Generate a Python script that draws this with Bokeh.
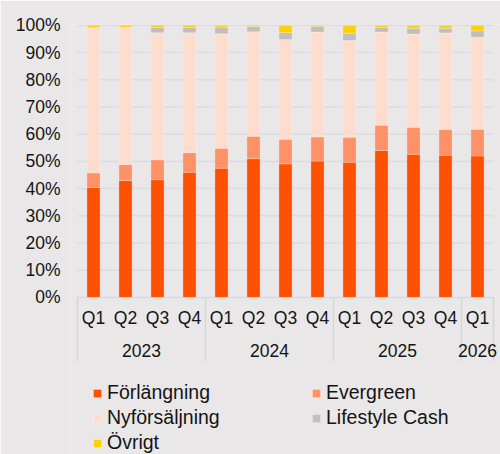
from bokeh.plotting import figure
from bokeh.models import (FactorRange, Range1d, FixedTicker, Legend, LegendItem,
                          ColumnDataSource)
from bokeh.core.properties import value
from bokeh.embed import file_html
from bokeh.resources import INLINE

# ---- data -------------------------------------------------------------
years = ["2023", "2023", "2023", "2023", "2024", "2024", "2024", "2024",
         "2025", "2025", "2025", "2025", "2026"]
quarters = ["Q1", "Q2", "Q3", "Q4", "Q1", "Q2", "Q3", "Q4",
            "Q1", "Q2", "Q3", "Q4", "Q1"]
year_labels = ["2023", "2024", "2025", "2026"]

forlangning    = [40.4, 43.0, 43.3, 46.0, 47.5, 51.0, 49.1, 50.1, 49.7, 54.0, 52.6, 52.3, 52.0]
evergreen      = [5.4, 5.9, 7.3, 7.2, 7.3, 8.2, 9.0, 8.9, 9.2, 9.3, 9.9, 9.4, 9.8]
nyforsaljning  = [53.4, 50.4, 46.7, 44.1, 42.1, 38.4, 36.7, 38.5, 35.5, 34.2, 34.3, 35.5, 33.8]
lifestyle_cash = [0.0, 0.0, 1.9, 1.9, 2.4, 2.0, 2.5, 2.1, 2.7, 1.7, 2.1, 1.7, 2.4]
ovrigt         = [0.8, 0.7, 0.8, 0.8, 0.7, 0.4, 2.7, 0.4, 2.9, 0.8, 1.1, 1.1, 2.0]

series_names = ["Förlängning", "Evergreen", "Nyförsäljning", "Lifestyle Cash", "Övrigt"]
series_keys = ["f", "e", "n", "l", "o"]
colors = ["#ff5000", "#ff9166", "#ffdccc", "#bfbfbf", "#ffd100"]

y_ticks = [0, 10, 20, 30, 40, 50, 60, 70, 80, 90, 100]
y_tick_labels = ["0%", "10%", "20%", "30%", "40%", "50%", "60%", "70%", "80%", "90%", "100%"]

# ---- styling ------------------------------------------------------------
BG = "#e9e7e8"
GRID = "#dadce0"
SEP = "#d6d6d6"
TXT = "#141414"
FONT = "Liberation Sans"

factors = list(zip(years, quarters))
n = len(factors)
source = ColumnDataSource(dict(x=factors, f=forlangning, e=evergreen, n=nyforsaljning,
                               l=lifestyle_cash, o=ovrigt))

p = figure(width=500, height=454, output_backend="svg", toolbar_location=None,
           x_range=FactorRange(*factors, factor_padding=0, group_padding=0,
                               range_padding=0.21875, range_padding_units="absolute"),
           y_range=Range1d(-57.7, 100.3),
           min_border_left=70, min_border_right=0, min_border_top=24, min_border_bottom=0)
p.background_fill_color = BG
p.border_fill_color = BG
p.outline_line_color = None

p.xaxis.visible = False
p.xgrid.visible = False
p.ygrid.visible = False

p.yaxis.ticker = FixedTicker(ticks=y_ticks)
p.yaxis.major_label_overrides = {t: lab for t, lab in zip(y_ticks, y_tick_labels)}
p.yaxis.axis_line_color = None
p.yaxis.major_tick_line_color = None
p.yaxis.minor_tick_line_color = None
p.yaxis.major_tick_in = 0
p.yaxis.major_tick_out = 0
p.yaxis.major_label_standoff = 10
p.yaxis.major_label_text_font = FONT
p.yaxis.major_label_text_font_size = "17.5px"
p.yaxis.major_label_text_color = TXT

# horizontal grid lines spanning the category area only
p.segment(x0=[0] * len(y_ticks), y0=y_ticks, x1=[n] * len(y_ticks), y1=y_ticks,
          line_color=GRID, line_width=1.5)

renderers = p.vbar_stack(series_keys, x="x", width=0.41, source=source, color=colors,
                         line_color="white", line_alpha=0.25, line_width=1)

# category axis line and group separators
p.segment(x0=[0], y0=[0], x1=[n], y1=[0], line_color=SEP, line_width=1)
bounds = [0] + [i for i in range(1, n) if years[i] != years[i - 1]] + [n]
p.segment(x0=bounds, y0=[0] * len(bounds), x1=bounds, y1=[-23.5] * len(bounds),
          line_color=SEP, line_width=1.5)

# quarter labels
p.text(x=factors, y=[-7.7] * n, text=quarters, text_align="center",
       text_baseline="middle", text_font=value(FONT), text_font_size="17.5px",
       text_color=TXT)
# year labels, centred under each group
year_centers = []
for yl in year_labels:
    idx = [i for i, y in enumerate(years) if y == yl]
    year_centers.append((min(idx) + max(idx) + 1) / 2.0)
p.text(x=year_centers, y=[-19.5] * len(year_labels), text=year_labels, text_align="center",
       text_baseline="middle", text_font=value(FONT), text_font_size="17.5px",
       text_color=TXT)

legend = Legend(items=[LegendItem(label=nm, renderers=[r]) for nm, r in zip(series_names, renderers)],
                location=(22, 0), orientation="horizontal", ncols=2,
                glyph_width=10, glyph_height=10, label_height=20, label_width=202,
                label_standoff=5, spacing=2, padding=0, margin=0,
                border_line_color=None, background_fill_alpha=0,
                label_text_font=FONT, label_text_font_size="19.5px", label_text_color=TXT)
p.add_layout(legend)

html = file_html(p, INLINE)
html = html.replace("<body>", '<body style="background-color:%s;">' % BG, 1)
open("out.html", "w").write(html)
